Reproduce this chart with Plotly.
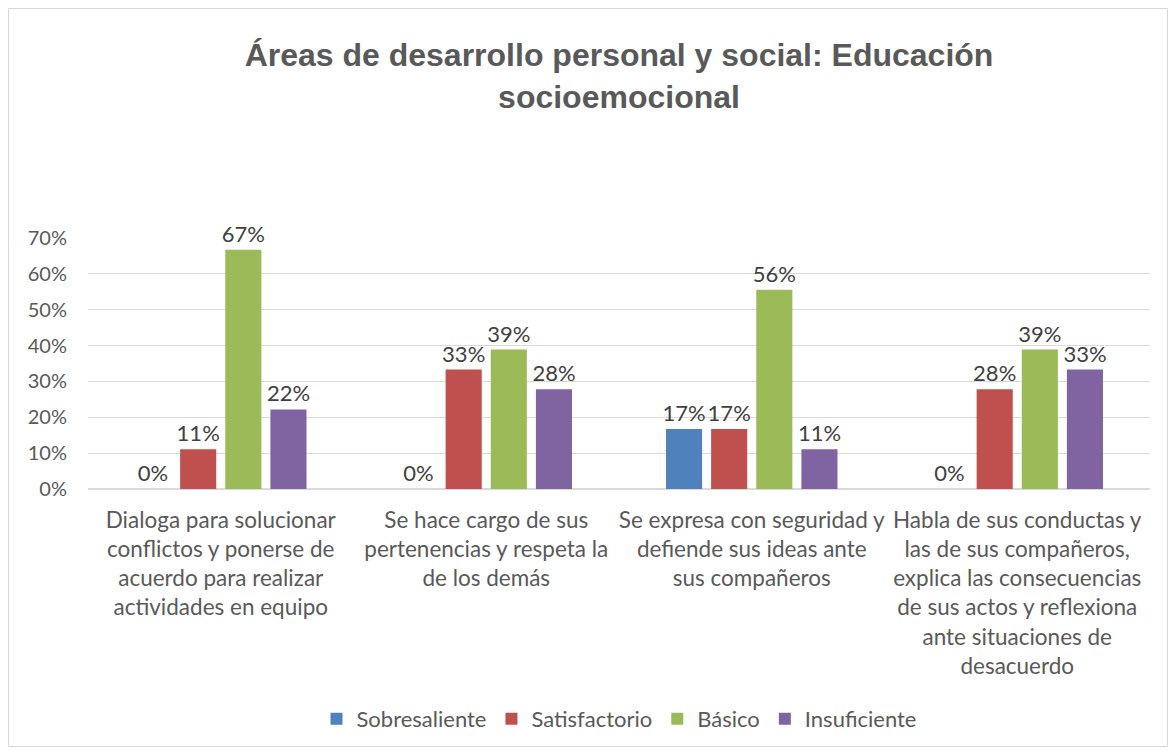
import plotly.graph_objects as go

categories = [
    "Dialoga para solucionar<br>conflictos y ponerse de<br>acuerdo para realizar<br>actividades en equipo",
    "Se hace cargo de sus<br>pertenencias y respeta la<br>de los demás",
    "Se expresa con seguridad y<br>defiende sus ideas ante<br>sus compañeros",
    "Habla de sus conductas y<br>las de sus compañeros,<br>explica las consecuencias<br>de sus actos y reflexiona<br>ante situaciones de<br>desacuerdo",
]
series_names = ["Sobresaliente", "Satisfactorio", "Básico", "Insuficiente"]
sobresaliente = [0.0, 0.0, 0.167, 0.0]
satisfactorio = [0.111, 0.333, 0.167, 0.278]
basico = [0.667, 0.389, 0.556, 0.389]
insuficiente = [0.222, 0.278, 0.111, 0.333]
colors = ["#4F81BD", "#C0504D", "#9BBB59", "#8064A2"]
y_ticks = [0, 0.1, 0.2, 0.3, 0.4, 0.5, 0.6, 0.7]

# page has an 8px body margin: figure origin sits at (8, 8) in the screenshot
W, H = 1160, 739
ml, mr, mt, mb = 80, 18, 230, 258
FONT = "Lato, Liberation Sans, sans-serif"

fig = go.Figure()
for name, vals, col in zip(series_names, [sobresaliente, satisfactorio, basico, insuficiente], colors):
    fig.add_trace(go.Bar(
        name=name, x=list(range(len(categories))), y=vals,
        marker=dict(color=col, line=dict(width=0)),
        text=[f"{v*100:.0f}%" for v in vals],
        textposition="outside", constraintext="none",
        textfont=dict(family=FONT, size=22, color="#404040"),
        cliponaxis=False,
    ))

pw = W - ml - mr
ph = H - mt - mb
fig.add_shape(type="rect", xref="paper", yref="paper",
              x0=(0.5 - ml) / pw, x1=(W - 0.5 - ml) / pw,
              y0=(H - mb - (H - 0.5)) / ph, y1=(H - mb - 0.5) / ph,
              line=dict(color="#D9D9D9", width=1), layer="below")

fig.update_layout(
    width=W, height=H,
    margin=dict(l=ml, r=mr, t=mt, b=mb),
    paper_bgcolor="white", plot_bgcolor="white",
    barmode="group", bargap=0.32, bargroupgap=0.2,
    title=dict(
        text="<b>Áreas de desarrollo personal y social: Educación<br>socioemocional</b>",
        x=0.5, xref="paper", xanchor="center", y=1 - 58 / H, yanchor="top",
        font=dict(family="Liberation Sans, Arial, sans-serif", size=32, color="#595959"),
    ),
    xaxis=dict(
        tickvals=list(range(len(categories))), ticktext=categories,
        tickfont=dict(family=FONT, size=22.5, color="#595959"),
        showgrid=False, showline=False, ticks="", range=[-0.5, 3.5],
        ticklabelstandoff=15,
    ),
    yaxis=dict(
        range=[0, 0.7], tickvals=y_ticks, ticktext=[f"{int(round(t*100))}%" for t in y_ticks],
        tickfont=dict(family=FONT, size=20, color="#595959"),
        showgrid=True, gridcolor="#D9D9D9", gridwidth=1, zeroline=True,
        zerolinecolor="#D9D9D9", showline=False, ticks="", ticklen=0,
        ticklabelstandoff=20,
    ),
    legend=dict(
        orientation="h", x=0.5, xanchor="center",
        yref="container", y=(H - 711) / H, yanchor="middle",
        font=dict(family=FONT, size=22, color="#595959"),
        itemwidth=30, traceorder="normal",
    ),
    showlegend=True,
)

fig.write_html("out.html")
